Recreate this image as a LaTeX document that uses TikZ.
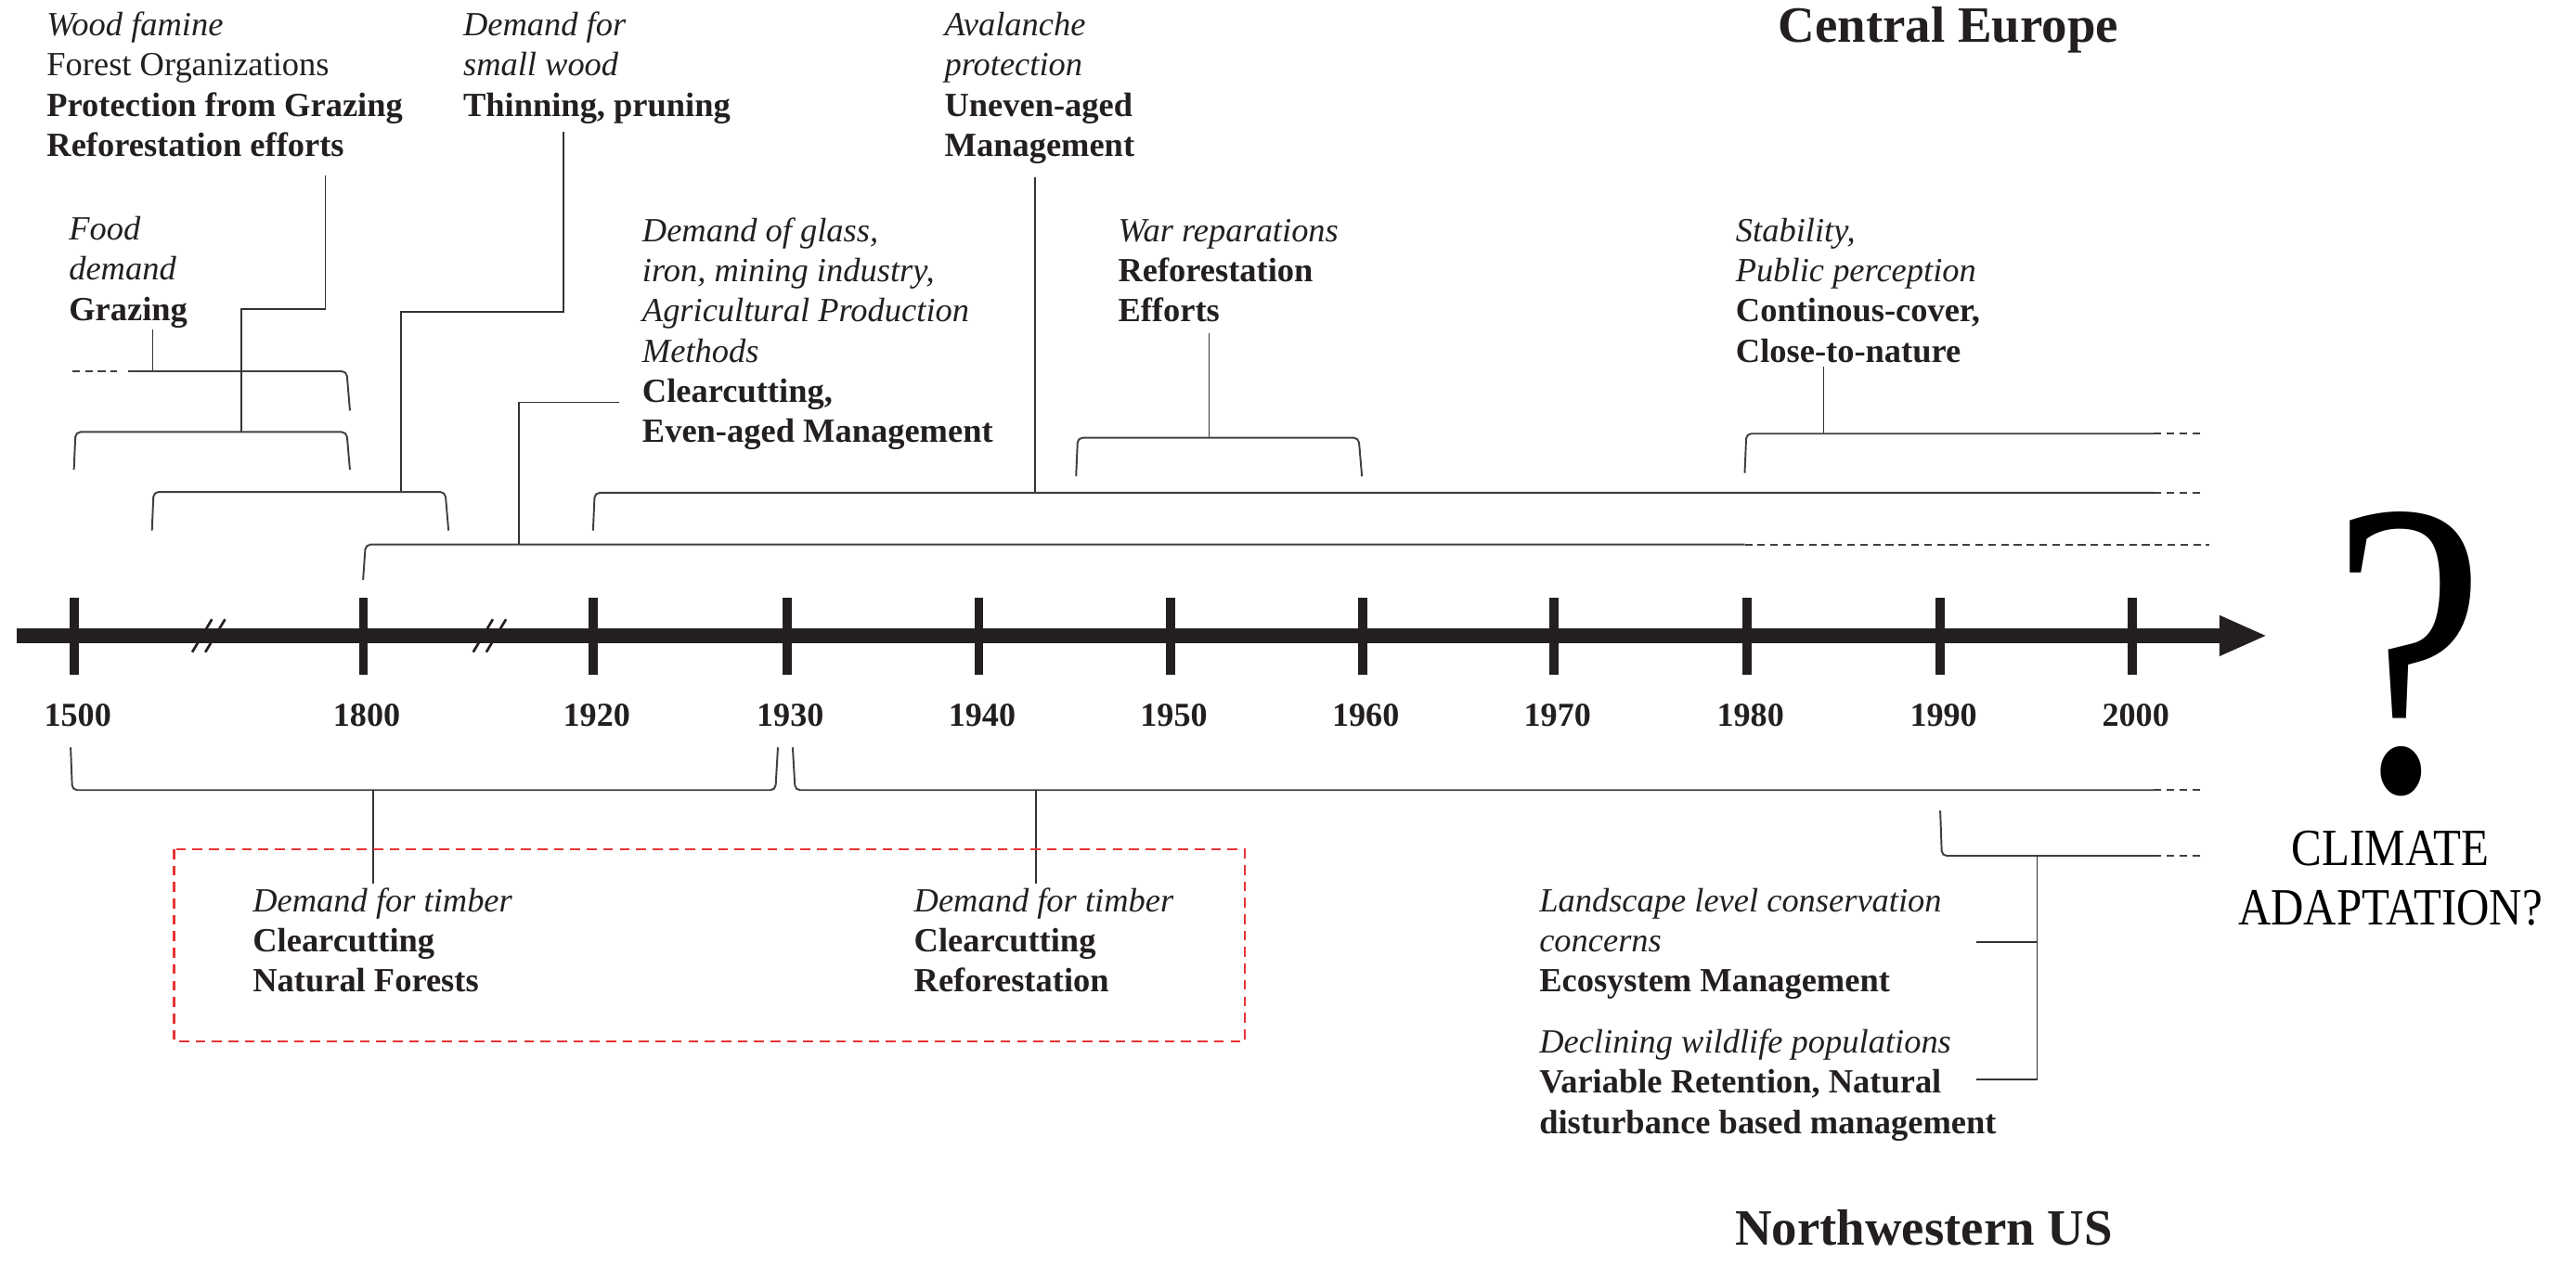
\documentclass[tikz,border=0pt]{standalone}
\usepackage{fontspec}
\usepackage{graphicx}
\setmainfont{Liberation Serif}
\newfontfamily\condfont{Liberation Serif}[FakeStretch=0.87]
\definecolor{boxred}{RGB}{232,52,52}
\definecolor{ink}{RGB}{35,31,32}
\newcommand\itl[1]{\strut\textit{#1}}
\newcommand\bfl[1]{\strut\textbf{#1}}
\newcommand\rml[1]{\strut #1}
\begin{document}
\begin{tikzpicture}[x=0.5pt,y=-0.5pt,
  conn/.style={line width=0.5pt, draw=black!80},
  brk/.style={line width=0.55pt, draw=black!75, rounded corners=1.5pt},
  dashend/.style={line width=0.55pt, draw=black!75, dash pattern=on 2.3pt off 1.6pt},
  txt/.style={anchor=north west, inner sep=0pt, outer sep=0pt, align=left, font=\fontsize{10.3}{12.25}\selectfont, text=ink},
  yr/.style={anchor=base, inner sep=0pt, font=\fontsize{10.2}{12}\selectfont\bfseries, text=ink},
  tickmark/.style={line width=2.75pt, draw=ink},
  ttl/.style={anchor=base, inner sep=0pt, font=\fontsize{15.5}{18}\selectfont\bfseries, text=ink}]
\useasboundingbox (0,0) rectangle (1568,770.7);

% axis
\fill[ink] (10,382.5) rectangle (1353,391.5);
\fill[ink] (1351,374.5) -- (1379,387) -- (1351,399.5) -- cycle;
\foreach \x/\yy [count=\i] in {45.3/1500,221.2/1800,361.2/1920,479/1930,595.8/1940,712.5/1950,829.3/1960,946/1970,1063.5/1980,1181/1990,1298/2000}{
  \draw[tickmark] (\x,364) -- (\x,411);
  \node[yr] (yr\i) at (\x+2,442) {\yy};
}
% break marks
\foreach \x in {117,125,288,296}{
  \draw[line width=0.75pt, draw=ink] (\x,397) -- (\x+12,377);
}

% titles
\node[ttl] (ce) at (1186,25.5) {Central Europe};
\node[ttl] (nwus) at (1171,758) {Northwestern US};

% top text blocks
\node[txt] (A) at (28.5,4.55) {\itl{Wood famine}\\\rml{Forest Organizations}\\\bfl{Protection from Grazing}\\\bfl{Reforestation efforts}};
\node[txt] (B) at (42,128.85) {\itl{Food}\\\itl{demand}\\\bfl{Grazing}};
\node[txt] (C) at (282,4.55) {\itl{Demand for}\\\itl{small wood}\\\bfl{Thinning, pruning}};
\node[txt] (D) at (575,4.55) {\itl{Avalanche}\\\itl{protection}\\\bfl{Uneven-aged}\\\bfl{Management}};
\node[txt] (E) at (391,129.85) {\itl{Demand of glass,}\\\itl{iron, mining industry,}\\\itl{Agricultural Production}\\\itl{Methods}\\\bfl{Clearcutting,}\\\bfl{Even-aged Management}};
\node[txt] (F) at (680.6,129.85) {\itl{War reparations}\\\bfl{Reforestation}\\\bfl{Efforts}};
\node[txt] (G) at (1056.6,129.85) {\itl{Stability,}\\\itl{Public perception}\\\bfl{Continous-cover,}\\\bfl{Close-to-nature}};

% bottom text blocks
\node[txt] (H) at (153.9,537.85) {\itl{Demand for timber}\\\bfl{Clearcutting}\\\bfl{Natural Forests}};
\node[txt] (I) at (556.4,537.85) {\itl{Demand for timber}\\\bfl{Clearcutting}\\\bfl{Reforestation}};
\node[txt] (J) at (937,537.85) {\itl{Landscape level conservation}\\\itl{concerns}\\\bfl{Ecosystem Management}};
\node[txt] (K) at (937,623.85) {\itl{Declining wildlife populations}\\\bfl{Variable Retention, Natural}\\\bfl{disturbance based management}};

% question mark and climate adaptation
\node[anchor=base, inner sep=0pt, text=black] (qm) at (1466,481) {\fontsize{128}{130}\selectfont\scalebox{0.82}[1]{?}};
\node[anchor=north, inner sep=0pt, align=center, text=black, font=\condfont\fontsize{15.9}{18}\selectfont] (clim) at (1455,501.3) {\strut CLIMATE\\\strut ADAPTATION?};

% ---- top connectors and brackets ----
% grazing
\draw[dashend] (44,226) -- (71,226);
\draw[brk] (78,226) -- (211,226) -- (213,250);
\draw[conn] (93,200.6) -- (93,226);
% reforestation efforts
\draw[conn] (198,107) -- (198,188) -- (147,188) -- (147,263);
\draw[brk] (45,286) -- (46,263) -- (211,263) -- (213,286);
% thinning, pruning
\draw[conn] (343,80) -- (343,190) -- (244,190) -- (244,299.5);
\draw[brk] (92.5,323) -- (93.5,299.5) -- (271,299.5) -- (273,323);
% clearcutting, even-aged (from 1800)
\draw[conn] (377,245) -- (316,245) -- (316,331.5);
\draw[brk] (221,353) -- (222.5,331.5) -- (1062,331.5);
\draw[dashend] (1062,331.5) -- (1345,331.5);
% uneven-aged (from 1920)
\draw[conn] (630,108) -- (630,300);
\draw[brk] (361,323) -- (362,300) -- (1311,300);
\draw[dashend] (1311,300) -- (1340,300);
% war reparations
\draw[conn] (736,203) -- (736,266.5);
\draw[brk] (655,290) -- (656,266.5) -- (827,266.5) -- (829,290);
% stability
\draw[conn] (1110,223) -- (1110,264);
\draw[brk] (1062,288) -- (1063,264) -- (1311,264);
\draw[dashend] (1311,264) -- (1340,264);

% ---- bottom connectors and brackets ----
\draw[brk] (43,455) -- (44,481) -- (472,481) -- (473.5,455);
\draw[brk] (482.5,455) -- (484,481) -- (1311,481);
\draw[dashend] (1311,481) -- (1340,481);
\draw[conn] (227,481) -- (227,538);
\draw[conn] (630.5,481) -- (630.5,538);
\draw[brk] (1181,493.5) -- (1182,521) -- (1311,521);
\draw[dashend] (1311,521) -- (1340,521);
\draw[conn] (1240,521) -- (1240,657);
\draw[conn] (1203,573.5) -- (1240,573.5);
\draw[conn] (1203,657) -- (1240,657);

% red dashed frame
\draw[boxred, line width=0.65pt, dash pattern=on 3pt off 2pt] (106,517) rectangle (757.6,634);
\end{tikzpicture}
\end{document}
